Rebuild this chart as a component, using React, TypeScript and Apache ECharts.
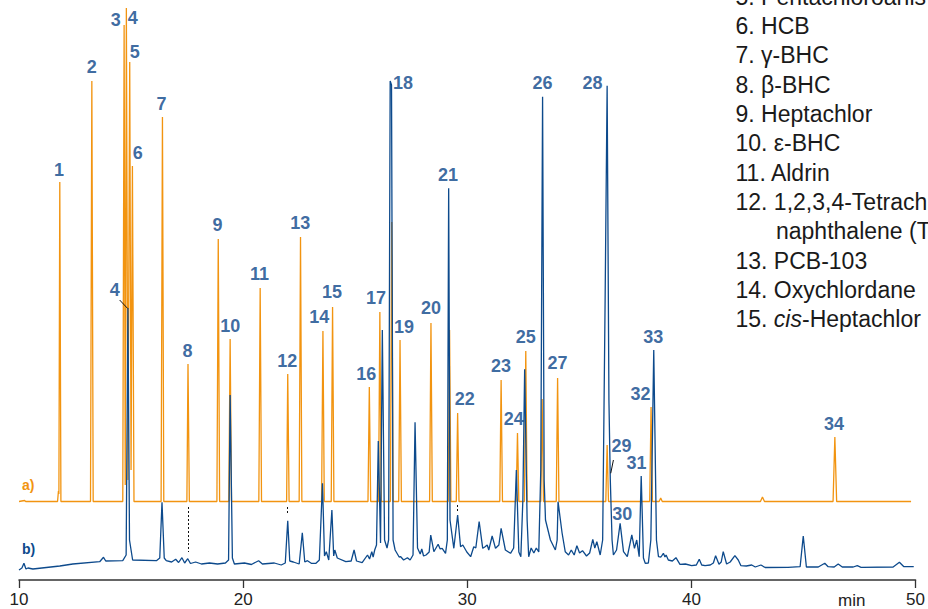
import React, { useEffect, useRef } from 'react';
import * as echarts from 'echarts';

// trace a) orange: [time (min), signal]
const traceA: [number, number][] = [
  [10.0, 78.5], [10.25, 79.5], [10.3, 78.5],
  [11.72, 78.5], [11.76, 89], [11.78, 86], [11.82, 398], [11.87, 78.5],
  [13.19, 78.5], [13.25, 499], [13.31, 78.5],
  [14.63, 78.5], [14.69, 555], [14.74, 95], [14.79, 572], [14.86, 100], [14.94, 518], [15.0, 110], [15.06, 414], [15.13, 78.5],
  [16.34, 78.5], [16.4, 463], [16.46, 78.5],
  [17.49, 78.5], [17.54, 216], [17.6, 78.5],
  [18.83, 78.5], [18.89, 341], [18.95, 78.5],
  [19.36, 78.5], [19.42, 241], [19.48, 78.5],
  [20.7, 78.5], [20.76, 292], [20.82, 78.5],
  [21.94, 78.5], [21.99, 206], [22.05, 78.5],
  [22.5, 78.5], [22.56, 343], [22.62, 78.5],
  [23.5, 78.5], [23.56, 249], [23.62, 78.5],
  [23.93, 78.5], [23.99, 273], [24.05, 78.5],
  [25.57, 78.5], [25.63, 193], [25.69, 78.5],
  [26.04, 78.5], [26.1, 268], [26.16, 78.5],
  [26.57, 78.5], [26.63, 358], [26.69, 78.5],
  [26.94, 78.5], [27.0, 240], [27.06, 78.5],
  [28.32, 78.5], [28.38, 257], [28.44, 78.5],
  [29.15, 78.5], [29.21, 250], [29.27, 78.5],
  [29.51, 78.5], [29.57, 167], [29.63, 78.5],
  [31.45, 78.5], [31.51, 200], [31.57, 78.5],
  [32.18, 78.5], [32.24, 147], [32.3, 78.5],
  [32.55, 78.5], [32.61, 229], [32.67, 78.5],
  [33.28, 78.5], [33.34, 181], [33.4, 78.5],
  [33.97, 78.5], [34.03, 202], [34.09, 78.5],
  [36.18, 78.5], [36.24, 135], [36.3, 78.5],
  [38.14, 78.5], [38.2, 173], [38.26, 78.5],
  [38.56, 78.5], [38.63, 82], [38.7, 78.5],
  [43.08, 78.5], [43.17, 83], [43.26, 78.5],
  [46.32, 78.5], [46.4, 143], [46.48, 78.5],
  [49.8, 78.5],
];

// trace b) blue: [time (min), signal]
const traceB: [number, number][] = [
  [10.0, 10], [10.13, 12], [10.22, 16.7], [10.31, 11], [10.4, 12], [10.62, 11], [11.82, 14], [12.4, 16],
  [13.6, 18.3], [13.77, 22.7], [13.87, 19], [14.63, 19.3], [14.78, 25], [14.86, 272], [14.93, 40], [15.07, 20],
  [16.13, 19.3], [16.28, 22], [16.38, 77.7], [16.48, 22], [16.57, 19.3], [16.81, 18], [16.99, 20.7], [17.12, 17.5],
  [17.27, 22.3], [17.39, 17], [17.53, 21.3], [17.65, 16.5], [17.88, 18], [18.14, 16], [18.5, 17], [18.86, 16],
  [19.21, 17], [19.35, 20], [19.42, 185], [19.52, 22], [19.61, 16], [20.06, 17], [20.37, 15.5], [20.69, 19.3],
  [20.86, 16], [21.39, 17], [21.7, 15], [21.88, 17], [21.99, 59.3], [22.08, 19], [22.24, 18], [22.5, 16],
  [22.64, 47.3], [22.75, 18], [22.87, 19.3], [23.04, 16.7], [23.25, 16.7], [23.4, 20], [23.54, 96.7], [23.63, 24],
  [23.71, 28.3], [23.82, 20], [23.96, 70], [24.04, 24], [24.09, 30], [24.2, 22], [24.58, 18.3], [24.82, 19],
  [24.95, 30], [25.06, 19], [25.31, 17.3], [25.55, 25], [25.64, 21], [25.74, 28.3], [25.8, 23], [25.87, 30],
  [25.95, 35], [26.03, 139], [26.13, 37], [26.21, 250], [26.31, 40], [26.42, 32], [26.49, 40], [26.56, 499],
  [26.62, 495], [26.69, 40], [26.78, 30], [26.96, 23], [27.03, 23.3], [27.16, 20], [27.33, 22.3], [27.45, 20],
  [27.58, 25], [27.67, 157.7], [27.78, 32], [27.9, 26], [27.97, 31], [28.05, 24], [28.16, 25], [28.3, 28],
  [28.37, 45], [28.51, 28.3], [28.7, 35.7], [28.79, 31], [28.88, 31.7], [29.03, 26.7], [29.11, 40], [29.17, 391.7],
  [29.23, 60], [29.4, 31.7], [29.57, 65], [29.7, 33.3], [29.8, 35], [29.98, 28], [30.15, 23.3], [30.29, 33.3],
  [30.38, 32], [30.53, 58.3], [30.69, 31.7], [30.78, 33], [30.89, 35], [30.96, 30], [31.11, 44], [31.26, 31.7],
  [31.41, 35], [31.51, 51.7], [31.7, 30], [31.93, 26.7], [32.07, 32], [32.19, 110], [32.3, 28], [32.39, 23.3],
  [32.48, 80], [32.56, 210.7], [32.67, 60], [32.74, 23.3], [32.85, 32], [32.97, 27], [33.08, 32], [33.19, 28],
  [33.28, 110], [33.36, 483.3], [33.43, 100], [33.49, 60], [33.71, 40], [33.93, 30], [34.01, 40], [34.05, 78.3],
  [34.23, 47], [34.37, 28.3], [34.52, 25], [34.64, 30], [34.77, 25], [34.89, 34.3], [35.01, 27], [35.14, 29.3],
  [35.32, 24], [35.46, 27], [35.6, 40.7], [35.69, 32], [35.78, 38.3], [35.93, 25], [36.04, 40], [36.15, 280],
  [36.24, 494.3], [36.32, 180], [36.38, 101.3], [36.46, 40], [36.52, 25], [36.66, 30], [36.82, 56.7], [36.97, 28.3],
  [37.14, 23.3], [37.34, 45], [37.46, 31.7], [37.56, 40], [37.67, 23.3], [37.76, 104], [37.86, 22], [37.94, 16.7],
  [38.08, 17], [38.19, 40], [38.32, 230], [38.44, 40], [38.53, 23.3], [38.64, 23], [38.75, 26.7], [38.82, 23],
  [38.87, 25], [38.97, 20], [39.15, 19], [39.31, 22.3], [39.49, 15.7], [39.73, 16], [40.01, 14.3], [40.22, 15],
  [40.35, 20.7], [40.46, 15], [40.61, 14.3], [40.84, 15], [40.98, 17], [41.08, 24.3], [41.23, 15.7], [41.33, 18],
  [41.42, 28.3], [41.57, 16], [41.73, 18], [41.94, 24.3], [42.09, 20], [42.21, 14.3], [42.45, 14], [42.69, 15],
  [42.85, 13], [43.1, 15], [43.29, 12.5], [44.31, 12.7], [44.85, 13.3], [44.99, 44], [45.13, 13], [45.66, 13],
  [45.95, 16.7], [46.1, 13.3], [46.37, 13], [46.55, 16], [46.73, 13], [47.22, 13], [47.4, 14.3], [47.57, 12.7],
  [49.0, 13], [49.28, 17.7], [49.47, 13.5], [49.92, 13.3],
];

// peak numbers: [label, time, signal]
const peakLabels: [string, number, number][] = [
  ['1', 11.78, 410], ['2', 13.25, 513], ['3', 14.32, 560], ['4', 15.07, 562], ['5', 15.16, 528],
  ['6', 15.3, 427], ['7', 16.36, 476], ['4', 14.27, 290], ['8', 17.52, 229], ['9', 18.86, 355],
  ['10', 19.43, 254], ['11', 20.73, 306], ['12', 21.97, 219], ['13', 22.55, 357], ['14', 23.4, 263],
  ['15', 23.97, 288], ['16', 25.49, 206], ['17', 25.93, 282], ['18', 27.13, 497], ['19', 27.18, 253],
  ['20', 28.38, 272], ['21', 29.14, 405], ['22', 29.89, 181], ['23', 31.5, 214], ['24', 32.07, 161],
  ['25', 32.61, 243], ['26', 33.36, 497], ['27', 34.03, 217], ['28', 35.59, 497], ['29', 36.88, 134],
  ['30', 36.92, 66], ['31', 37.55, 117], ['32', 37.73, 186], ['33', 38.3, 243], ['34', 46.36, 156],
];

// dotted markers on trace b): [time, from, to]
const dottedMarks: [number, number, number][] = [
  [17.53, 73, 28], [21.99, 73, 67], [29.57, 75, 69],
];

// leader lines: [t1, v1, t2, v2]
const leaderLines: [number, number, number, number][] = [
  [14.49, 280, 14.84, 271.7], [36.52, 120, 36.4, 106.7],
];

// compound list as visible in the figure (cut at the frame's edge)
const compoundList: string[] = [
  '5. Pentachloroanis',
  '6. HCB',
  '7. γ-BHC',
  '8. β-BHC',
  '9. Heptachlor',
  '10. ε-BHC',
  '11. Aldrin',
  '12. 1,2,3,4-Tetrach',
  '      naphthalene (T',
  '13. PCB-103',
  '14. Oxychlordane',
  '15. {i|cis}-Heptachlor',
];

const ORANGE = '#F29410';
const BLUE = '#0D4A8C';
const LABEL = '#0B4589';
const FONT = '"Liberation Sans", Arial, Helvetica, sans-serif';

export default function App() {
  const ref = useRef<HTMLDivElement>(null);
  useEffect(() => {
    const chart = echarts.init(ref.current!, null, { renderer: 'svg' });
    const legendGraphics = compoundList.map((txt, i) => {
      const indent = txt.startsWith(' ');
      return {
        type: 'text',
        left: indent ? 776 : 735.5,
        top: -1.7 + 29.3 * i - 13,
        silent: true,
        style: {
          text: txt.trim(),
          fill: '#1a1a1a',
          fontSize: 23,
          fontFamily: FONT,
          rich: { i: { fontStyle: 'italic', fontSize: 23, fontFamily: FONT, fill: '#1a1a1a' } },
        },
      };
    });
    const option: any = {
      animation: false,
      backgroundColor: '#ffffff',
      grid: { left: 19, right: 10, top: 0, bottom: 29 },
      xAxis: {
        type: 'value',
        min: 10,
        max: 50,
        interval: 10,
        axisLine: { show: true, onZero: false, lineStyle: { color: '#333', width: 1.5 } },
        axisTick: { show: true, length: 8, lineStyle: { color: '#333', width: 1.3 } },
        axisLabel: { color: '#222', fontSize: 17, fontFamily: FONT, margin: 11 },
        splitLine: { show: false },
      },
      yAxis: { type: 'value', min: 0, max: 580, show: false },
      series: [
        {
          type: 'line',
          data: traceA,
          symbol: 'none',
          lineStyle: { color: ORANGE, width: 1.3 },
          z: 2,
        },
        {
          type: 'line',
          data: traceB,
          symbol: 'none',
          lineStyle: { color: BLUE, width: 1.3 },
          z: 3,
          markLine: {
            silent: true,
            symbol: ['none', 'none'],
            label: { show: false },
            animation: false,
            data: [
              ...dottedMarks.map(([t, a, b]) => [
                { coord: [t, a], lineStyle: { type: [2, 2], color: '#111', width: 1 } },
                { coord: [t, b] },
              ]),
              ...leaderLines.map(([t1, v1, t2, v2]) => [
                { coord: [t1, v1], lineStyle: { type: 'solid', color: '#111', width: 1 } },
                { coord: [t2, v2] },
              ]),
            ],
          },
        },
        {
          type: 'scatter',
          data: peakLabels.map(([s, t, v]) => [t, v, s]),
          symbolSize: 1,
          itemStyle: { color: 'rgba(0,0,0,0)' },
          label: {
            show: true,
            position: 'inside',
            formatter: (p: any) => p.data[2],
            color: LABEL,
            fontSize: 18,
            fontWeight: 'bold',
            fontFamily: FONT,
          },
          z: 5,
        },
      ],
      graphic: [
        ...legendGraphics,
        {
          type: 'text',
          left: 22,
          top: 478,
          style: { text: 'a)', fill: ORANGE, fontSize: 14, fontWeight: 'bold', fontFamily: FONT },
        },
        {
          type: 'text',
          left: 22,
          top: 542,
          style: { text: 'b)', fill: BLUE, fontSize: 14, fontWeight: 'bold', fontFamily: FONT },
        },
        {
          type: 'text',
          left: 838,
          top: 592,
          style: { text: 'min', fill: '#222', fontSize: 17, fontFamily: FONT },
        },
      ],
    };
    chart.setOption(option);
    return () => chart.dispose();
  }, []);
  return (
    <div
      ref={ref}
      style={{ position: 'fixed', left: 0, top: 0, width: 928, height: 609, background: '#fff' }}
    />
  );
}
